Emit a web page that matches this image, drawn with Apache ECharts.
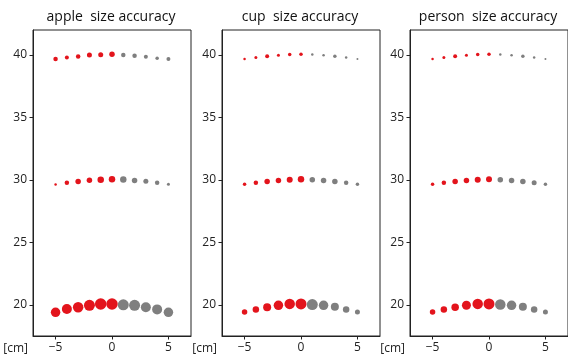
<!DOCTYPE html>
<html>
<head>
<meta charset="utf-8">
<script src="https://cdn.jsdelivr.net/npm/echarts@6/dist/echarts.min.js"></script>
<style>
  html, body { margin: 0; padding: 0; background: #fff; }
  #chart { width: 568px; height: 358px; }
</style>
</head>
<body>
<div id="chart"></div>
<script>
// offsets along the object, in cm
var offsets = [-5, -4, -3, -2, -1, 0, 1, 2, 3, 4, 5];
var titles = ['apple  size accuracy', 'cup  size accuracy', 'person  size accuracy'];
var yTicks = [20, 25, 30, 35, 40];
var xTicks = [-5, 0, 5];

// apple
var appleY40 = [39.68, 39.8, 39.88, 40.0, 40.02, 40.05, 40.0, 39.94, 39.86, 39.73, 39.68];
var appleS40 = [4.5, 4, 4.5, 5, 5, 5.5, 4.5, 4.5, 4, 3.5, 4];
var appleY30 = [29.62, 29.78, 29.88, 29.98, 30.02, 30.06, 30.04, 29.96, 29.9, 29.78, 29.64];
var appleS30 = [2.5, 4.5, 5.5, 5.5, 6.5, 6.5, 6.5, 5.5, 5, 4.5, 3];
var appleY20 = [19.4, 19.66, 19.8, 19.96, 20.06, 20.06, 20.0, 19.96, 19.8, 19.63, 19.4];
var appleS20 = [9.5, 10, 10.5, 11, 11.5, 11.5, 11, 11, 10, 10, 9.5];

// cup
var cupY40 = [39.68, 39.8, 39.9, 39.98, 40.04, 40.06, 40.04, 39.98, 39.9, 39.8, 39.68];
var cupS40 = [2.5, 3, 4, 3, 3.5, 3.5, 2.5, 2.5, 3.5, 2.5, 2];
var cupY30 = [29.64, 29.78, 29.88, 29.96, 30.02, 30.06, 30.02, 29.96, 29.88, 29.78, 29.64];
var cupS30 = [3.5, 4.5, 5.5, 5.5, 6, 6.5, 5.5, 5.5, 5.5, 4.5, 3.5];
var cupY20 = [19.42, 19.63, 19.8, 19.96, 20.07, 20.07, 20.02, 19.96, 19.85, 19.63, 19.42];
var cupS20 = [5.5, 6.5, 8, 9.5, 10.5, 11, 11, 9.5, 8, 6.5, 5];

// person
var personY40 = [39.68, 39.8, 39.9, 39.98, 40.04, 40.06, 40.04, 39.98, 39.9, 39.8, 39.68];
var personS40 = [2.5, 3, 4, 3, 3.5, 3.5, 2.5, 2.5, 3.5, 2.5, 2];
var personY30 = [29.64, 29.78, 29.88, 29.96, 30.02, 30.06, 30.02, 29.96, 29.88, 29.78, 29.64];
var personS30 = [3.5, 4.5, 5.5, 5.5, 6, 6, 5.5, 5.5, 5.5, 5, 3.5];
var personY20 = [19.42, 19.63, 19.8, 19.96, 20.07, 20.07, 20.02, 19.96, 19.85, 19.63, 19.42];
var personS20 = [5.5, 6.5, 7.5, 9, 10.5, 11, 10.5, 9.5, 8, 6.5, 5];

var panels = [
  [[appleY40, appleS40], [appleY30, appleS30], [appleY20, appleS20]],
  [[cupY40, cupS40], [cupY30, cupS30], [cupY20, cupS20]],
  [[personY40, personS40], [personY30, personS30], [personY20, personS20]]
];

var RED = '#e3141c';
var GREY = '#7f7f7f';
var FONT = 'Open Sans';

var gridLefts = [33, 222, 410];
var gridWidth = 158;

var chart = echarts.init(document.getElementById('chart'));

var option = {
  backgroundColor: '#fff',
  animation: false,
  graphic: [],
  grid: [],
  xAxis: [],
  yAxis: [],
  series: []
};

gridLefts.forEach(function (left, i) {
  // panel title, centred over its box
  option.graphic.push({
    type: 'text',
    x: left + gridWidth / 2 - 1,
    y: 17,
    style: {
      text: titles[i],
      fontFamily: FONT, fontSize: 14, fill: '#111',
      textAlign: 'center', textVerticalAlign: 'middle'
    }
  });
  option.grid.push({
    left: left, top: 30, width: gridWidth, height: 306,
    show: true, borderColor: '#222', borderWidth: 1, backgroundColor: 'transparent'
  });
  option.xAxis.push({
    type: 'value', gridIndex: i, min: -7, max: 7,
    name: '[cm]', nameLocation: 'start', nameGap: 5,
    nameTextStyle: { fontFamily: FONT, fontSize: 12, color: '#222', verticalAlign: 'top', padding: [7, 0, 0, 0] },
    axisLine: { show: true, onZero: false, lineStyle: { color: '#222' } },
    axisTick: { show: true, length: 3.5, customValues: xTicks, lineStyle: { color: '#222' } },
    axisLabel: {
      customValues: xTicks, margin: 6,
      fontFamily: FONT, fontSize: 12, color: '#222',
      formatter: function (v) { return v < 0 ? '\u2212' + Math.abs(v) : String(v); }
    },
    splitLine: { show: false }
  });
  option.yAxis.push({
    type: 'value', gridIndex: i, min: 17.5, max: 42,
    axisLine: { show: true, onZero: false, lineStyle: { color: '#222' } },
    axisTick: { show: true, length: 3.5, customValues: yTicks, lineStyle: { color: '#222' } },
    axisLabel: { customValues: yTicks, margin: 6, fontFamily: FONT, fontSize: 12, color: '#222' },
    splitLine: { show: false }
  });
  panels[i].forEach(function (row) {
    var ys = row[0], sizes = row[1];
    option.series.push({
      type: 'scatter',
      xAxisIndex: i, yAxisIndex: i,
      data: offsets.map(function (x, k) { return [x, ys[k], sizes[k]]; }),
      symbolSize: function (v) { return v[2]; },
      itemStyle: {
        opacity: 1,
        color: function (p) { return p.value[0] <= 0 ? RED : GREY; }
      }
    });
  });
});

chart.setOption(option);
</script>
</body>
</html>
